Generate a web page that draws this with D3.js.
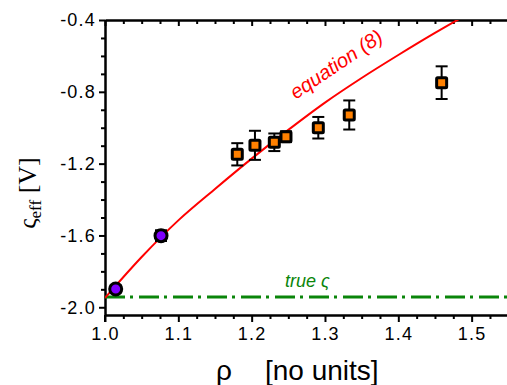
<!DOCTYPE html>
<html>
<head>
<meta charset="utf-8">
<script src="https://cdn.jsdelivr.net/npm/d3@7"></script>
<style>
  body { margin: 0; background: #fff; }
  svg { display: block; font-family: "Liberation Sans", Arial, sans-serif; }
</style>
</head>
<body>
<script>
// measured points, blue-ish purple ones first
const circleRho = [1.0146, 1.0764]
const circleVal = [-1.898, -1.601]
const circleErr = [0.02, 0.03]

const squareRho = [1.1804, 1.2045, 1.2309, 1.2468, 1.2909, 1.3331, 1.4591]
const squareVal = [-1.148, -1.098, -1.081, -1.050, -1.000, -0.929, -0.749]
const squareErr = [0.062, 0.081, 0.049, 0.03, 0.06, 0.081, 0.091]

// equation (8) curve
const curveRho = [1.0, 1.05, 1.1, 1.15, 1.2, 1.25, 1.3, 1.35, 1.4, 1.45, 1.5]
const curveVal = [-1.948, -1.72, -1.516, -1.341, -1.172, -1.012, -0.86, -0.723, -0.595, -0.472, -0.355]

const trueZeta = -1.943

const xMajor = [1.0, 1.1, 1.2, 1.3, 1.4, 1.5]
const yMajor = [-0.4, -0.8, -1.2, -1.6, -2.0]

const width = 507
const height = 385

const svg = d3.select("body")
  .append("svg")
    .attr("width", width)
    .attr("height", height)

const x = d3.scaleLinear().domain([1.0, 1.55]).range([105, 508.3])
const y = d3.scaleLinear().domain([-2.043, -0.4]).range([315, 20])

const xMinor = d3.range(0, 23).map(i => 1 + i * 0.025).filter(v => !xMajor.some(m => Math.abs(m - v) < 1e-6))
const yMinor = d3.range(0, 17).map(i => -0.4 - i * 0.1).filter(v => !yMajor.some(m => Math.abs(m - v) < 1e-6))

// plain hyphen for negatives, like the original
const fmt = d => d.toFixed(1)

svg.append("clipPath").attr("id", "plot")
  .append("rect").attr("x", 105).attr("y", 20).attr("width", 410).attr("height", 295)

// axes
function styleAxis(g) {
  g.selectAll("path, line").attr("stroke", "#000").attr("stroke-width", 2)
  g.selectAll("text").attr("fill", "#000").attr("font-size", 18)
    .attr("letter-spacing", 1.2)
    .attr("font-family", "Liberation Sans, Arial, sans-serif")
}

svg.append("g").attr("transform", "translate(0,315)")
  .call(d3.axisBottom(x).tickValues(xMajor).tickSize(7).tickSizeOuter(0).tickPadding(5).tickFormat(fmt))
  .call(styleAxis)
svg.append("g").attr("transform", "translate(0,315)")
  .call(d3.axisBottom(x).tickValues(xMinor).tickSize(4).tickSizeOuter(0).tickFormat(""))
  .call(styleAxis)

svg.append("g").attr("transform", "translate(0,20)")
  .call(d3.axisBottom(x).tickValues(xMajor).tickSize(6).tickSizeOuter(0).tickFormat(""))
  .call(styleAxis)
svg.append("g").attr("transform", "translate(0,20)")
  .call(d3.axisBottom(x).tickValues(xMinor).tickSize(4).tickSizeOuter(0).tickFormat(""))
  .call(styleAxis)

svg.append("g").attr("transform", "translate(105,0)")
  .call(d3.axisLeft(y).tickValues(yMajor).tickSize(6).tickSizeOuter(0).tickPadding(3).tickFormat(fmt))
  .call(styleAxis)
svg.append("g").attr("transform", "translate(105,0)")
  .call(d3.axisLeft(y).tickValues(yMinor).tickSize(4).tickSizeOuter(0).tickFormat(""))
  .call(styleAxis)

// left spine runs down to the first x tick
svg.append("line")
  .attr("x1", x(1.0)).attr("x2", x(1.0))
  .attr("y1", 315).attr("y2", 322)
  .attr("stroke", "#000").attr("stroke-width", 2)

// true zeta line
svg.append("line")
  .attr("x1", x(1.0)).attr("x2", width)
  .attr("y1", y(trueZeta)).attr("y2", y(trueZeta))
  .attr("stroke", "#0a850a")
  .attr("stroke-width", 3)
  .attr("stroke-dasharray", "20,5,3,6")

// equation curve
const line = d3.line()
  .x((d, i) => x(d))
  .y((d, i) => y(curveVal[i]))
  .curve(d3.curveMonotoneX)

svg.append("path")
  .attr("clip-path", "url(#plot)")
  .attr("d", line(curveRho))
  .attr("fill", "none")
  .attr("stroke", "#f00")
  .attr("stroke-width", 2)

// error bars
function errorBars(rhos, vals, errs) {
  const g = svg.append("g").attr("stroke", "#000").attr("stroke-width", 2)
  rhos.forEach((r, i) => {
    const cx = x(r)
    const top = y(vals[i] + errs[i])
    const bot = y(vals[i] - errs[i])
    g.append("line").attr("x1", cx).attr("x2", cx).attr("y1", top).attr("y2", bot)
    g.append("line").attr("x1", cx - 6).attr("x2", cx + 6).attr("y1", top).attr("y2", top)
    g.append("line").attr("x1", cx - 6).attr("x2", cx + 6).attr("y1", bot).attr("y2", bot)
  })
}
errorBars(circleRho, circleVal, circleErr)
errorBars(squareRho, squareVal, squareErr)

svg.selectAll("rect.sq")
  .data(squareRho)
  .enter()
    .append("rect")
    .attr("class", "sq")
    .attr("x", d => x(d) - 5)
    .attr("y", (d, i) => y(squareVal[i]) - 5)
    .attr("width", 10)
    .attr("height", 10)
    .attr("rx", 1)
    .attr("fill", "#ff8000")
    .attr("stroke", "#000")
    .attr("stroke-width", 3)

svg.selectAll("circle.pt")
  .data(circleRho)
  .enter()
    .append("circle")
    .attr("class", "pt")
    .attr("cx", d => x(d))
    .attr("cy", (d, i) => y(circleVal[i]))
    .attr("r", 6)
    .attr("fill", "#8000ff")
    .attr("stroke", "#000")
    .attr("stroke-width", 3)

// labels
svg.append("text")
  .attr("transform", "translate(340,70) rotate(-34)")
  .attr("text-anchor", "middle")
  .attr("font-size", 20)
  .attr("font-style", "italic")
  .attr("fill", "#f00")
  .text("equation (8)")

svg.append("text")
  .attr("x", 285).attr("y", 287)
  .attr("font-size", 18)
  .attr("font-style", "italic")
  .attr("fill", "#0a850a")
  .text("true ς")

const yl = svg.append("text")
  .attr("transform", "translate(36,193) rotate(-90)")
  .attr("text-anchor", "middle")
  .attr("font-family", "Liberation Serif, Times New Roman, serif")
  .attr("font-size", 26)
  .attr("fill", "#000")
yl.append("tspan").text("ς")
yl.append("tspan").attr("font-size", 17).attr("dy", 5).text("eff")
yl.append("tspan").attr("dy", -5).text(" [V]")

const xl = svg.append("text")
  .attr("y", 380)
  .attr("font-size", 28)
  .attr("fill", "#000")
xl.append("tspan").attr("x", 216).text("ρ")
xl.append("tspan").attr("x", 265).text("[no units]")
</script>
</body>
</html>
